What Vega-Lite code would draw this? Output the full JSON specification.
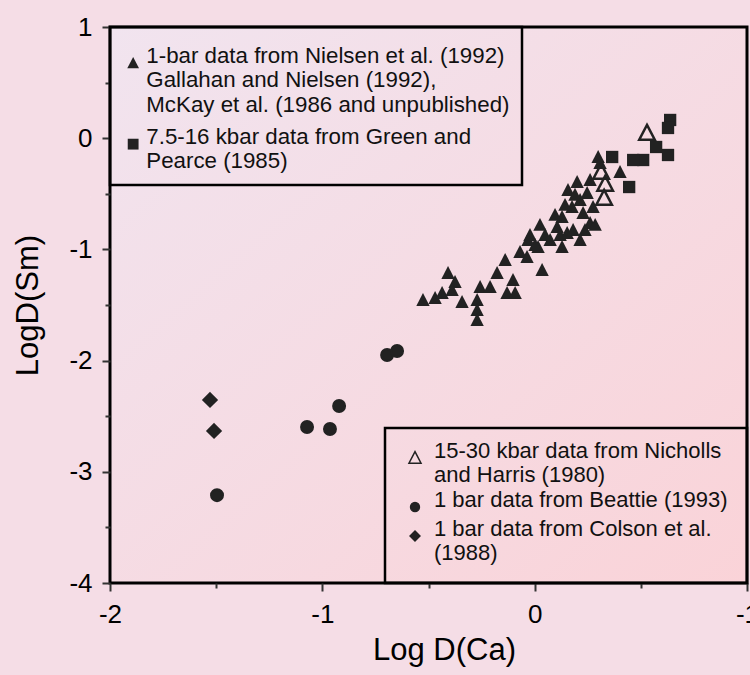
{
  "$schema": "https://vega.github.io/schema/vega-lite/v6.json",
  "width": 637,
  "height": 556,
  "autosize": {"type": "none"},
  "padding": {"left": 110, "top": 27, "right": 3, "bottom": 92},
  "background": "#f5dde6",
  "config": {
    "font": "Liberation Sans",
    "view": {
      "stroke": "black",
      "strokeWidth": 3,
      "fill": {
        "gradient": "linear",
        "x1": 0, "y1": 0, "x2": 1, "y2": 1,
        "stops": [
          {"offset": 0, "color": "#f1e4ef"},
          {"offset": 1, "color": "#fad3d8"}
        ]
      }
    },
    "axis": {
      "domain": false,
      "grid": false,
      "tickColor": "#333",
      "tickWidth": 2,
      "labelColor": "black",
      "labelFontSize": 26,
      "titleFontSize": 31,
      "titleFontWeight": "normal",
      "titleColor": "black",
      "labelFlush": false,
      "labelOverlap": false
    },
    "legend": {
      "offset": 0,
      "strokeColor": "black",
      "strokeWidth": 2.5,
      "labelColor": "#111",
      "labelLimit": 600,
      "labelBaseline": "alphabetic"
    }
  },
  "datasets": {
    "lowPressure": [
      {"series": "1-bar data from Nielsen et al. (1992)\nGallahan and Nielsen (1992),\nMcKay et al. (1986 and unpublished)", "logDCa": -0.526, "logDSm": -1.455},
      {"series": "1-bar data from Nielsen et al. (1992)\nGallahan and Nielsen (1992),\nMcKay et al. (1986 and unpublished)", "logDCa": -0.469, "logDSm": -1.437},
      {"series": "1-bar data from Nielsen et al. (1992)\nGallahan and Nielsen (1992),\nMcKay et al. (1986 and unpublished)", "logDCa": -0.436, "logDSm": -1.392},
      {"series": "1-bar data from Nielsen et al. (1992)\nGallahan and Nielsen (1992),\nMcKay et al. (1986 and unpublished)", "logDCa": -0.408, "logDSm": -1.212},
      {"series": "1-bar data from Nielsen et al. (1992)\nGallahan and Nielsen (1992),\nMcKay et al. (1986 and unpublished)", "logDCa": -0.375, "logDSm": -1.293},
      {"series": "1-bar data from Nielsen et al. (1992)\nGallahan and Nielsen (1992),\nMcKay et al. (1986 and unpublished)", "logDCa": -0.389, "logDSm": -1.365},
      {"series": "1-bar data from Nielsen et al. (1992)\nGallahan and Nielsen (1992),\nMcKay et al. (1986 and unpublished)", "logDCa": -0.342, "logDSm": -1.473},
      {"series": "1-bar data from Nielsen et al. (1992)\nGallahan and Nielsen (1992),\nMcKay et al. (1986 and unpublished)", "logDCa": -0.271, "logDSm": -1.455},
      {"series": "1-bar data from Nielsen et al. (1992)\nGallahan and Nielsen (1992),\nMcKay et al. (1986 and unpublished)", "logDCa": -0.271, "logDSm": -1.545},
      {"series": "1-bar data from Nielsen et al. (1992)\nGallahan and Nielsen (1992),\nMcKay et al. (1986 and unpublished)", "logDCa": -0.271, "logDSm": -1.635},
      {"series": "1-bar data from Nielsen et al. (1992)\nGallahan and Nielsen (1992),\nMcKay et al. (1986 and unpublished)", "logDCa": -0.257, "logDSm": -1.338},
      {"series": "1-bar data from Nielsen et al. (1992)\nGallahan and Nielsen (1992),\nMcKay et al. (1986 and unpublished)", "logDCa": -0.210, "logDSm": -1.338},
      {"series": "1-bar data from Nielsen et al. (1992)\nGallahan and Nielsen (1992),\nMcKay et al. (1986 and unpublished)", "logDCa": -0.177, "logDSm": -1.212},
      {"series": "1-bar data from Nielsen et al. (1992)\nGallahan and Nielsen (1992),\nMcKay et al. (1986 and unpublished)", "logDCa": -0.139, "logDSm": -1.095},
      {"series": "1-bar data from Nielsen et al. (1992)\nGallahan and Nielsen (1992),\nMcKay et al. (1986 and unpublished)", "logDCa": -0.130, "logDSm": -1.392},
      {"series": "1-bar data from Nielsen et al. (1992)\nGallahan and Nielsen (1992),\nMcKay et al. (1986 and unpublished)", "logDCa": -0.092, "logDSm": -1.392},
      {"series": "1-bar data from Nielsen et al. (1992)\nGallahan and Nielsen (1992),\nMcKay et al. (1986 and unpublished)", "logDCa": -0.102, "logDSm": -1.275},
      {"series": "1-bar data from Nielsen et al. (1992)\nGallahan and Nielsen (1992),\nMcKay et al. (1986 and unpublished)", "logDCa": -0.069, "logDSm": -1.023},
      {"series": "1-bar data from Nielsen et al. (1992)\nGallahan and Nielsen (1992),\nMcKay et al. (1986 and unpublished)", "logDCa": -0.036, "logDSm": -1.068},
      {"series": "1-bar data from Nielsen et al. (1992)\nGallahan and Nielsen (1992),\nMcKay et al. (1986 and unpublished)", "logDCa": -0.022, "logDSm": -0.871},
      {"series": "1-bar data from Nielsen et al. (1992)\nGallahan and Nielsen (1992),\nMcKay et al. (1986 and unpublished)", "logDCa": 0.016, "logDSm": -0.978},
      {"series": "1-bar data from Nielsen et al. (1992)\nGallahan and Nielsen (1992),\nMcKay et al. (1986 and unpublished)", "logDCa": 0.035, "logDSm": -1.185},
      {"series": "1-bar data from Nielsen et al. (1992)\nGallahan and Nielsen (1992),\nMcKay et al. (1986 and unpublished)", "logDCa": 0.073, "logDSm": -0.915},
      {"series": "1-bar data from Nielsen et al. (1992)\nGallahan and Nielsen (1992),\nMcKay et al. (1986 and unpublished)", "logDCa": 0.106, "logDSm": -0.799},
      {"series": "1-bar data from Nielsen et al. (1992)\nGallahan and Nielsen (1992),\nMcKay et al. (1986 and unpublished)", "logDCa": 0.129, "logDSm": -0.978},
      {"series": "1-bar data from Nielsen et al. (1992)\nGallahan and Nielsen (1992),\nMcKay et al. (1986 and unpublished)", "logDCa": 0.153, "logDSm": -0.853},
      {"series": "1-bar data from Nielsen et al. (1992)\nGallahan and Nielsen (1992),\nMcKay et al. (1986 and unpublished)", "logDCa": 0.181, "logDSm": -0.826},
      {"series": "1-bar data from Nielsen et al. (1992)\nGallahan and Nielsen (1992),\nMcKay et al. (1986 and unpublished)", "logDCa": 0.157, "logDSm": -0.466},
      {"series": "1-bar data from Nielsen et al. (1992)\nGallahan and Nielsen (1992),\nMcKay et al. (1986 and unpublished)", "logDCa": 0.200, "logDSm": -0.394},
      {"series": "1-bar data from Nielsen et al. (1992)\nGallahan and Nielsen (1992),\nMcKay et al. (1986 and unpublished)", "logDCa": 0.214, "logDSm": -0.556},
      {"series": "1-bar data from Nielsen et al. (1992)\nGallahan and Nielsen (1992),\nMcKay et al. (1986 and unpublished)", "logDCa": 0.228, "logDSm": -0.673},
      {"series": "1-bar data from Nielsen et al. (1992)\nGallahan and Nielsen (1992),\nMcKay et al. (1986 and unpublished)", "logDCa": 0.261, "logDSm": -0.763},
      {"series": "1-bar data from Nielsen et al. (1992)\nGallahan and Nielsen (1992),\nMcKay et al. (1986 and unpublished)", "logDCa": 0.247, "logDSm": -0.493},
      {"series": "1-bar data from Nielsen et al. (1992)\nGallahan and Nielsen (1992),\nMcKay et al. (1986 and unpublished)", "logDCa": 0.275, "logDSm": -0.619},
      {"series": "1-bar data from Nielsen et al. (1992)\nGallahan and Nielsen (1992),\nMcKay et al. (1986 and unpublished)", "logDCa": 0.299, "logDSm": -0.169},
      {"series": "1-bar data from Nielsen et al. (1992)\nGallahan and Nielsen (1992),\nMcKay et al. (1986 and unpublished)", "logDCa": 0.308, "logDSm": -0.223},
      {"series": "1-bar data from Nielsen et al. (1992)\nGallahan and Nielsen (1992),\nMcKay et al. (1986 and unpublished)", "logDCa": 0.402, "logDSm": -0.304},
      {"series": "1-bar data from Nielsen et al. (1992)\nGallahan and Nielsen (1992),\nMcKay et al. (1986 and unpublished)", "logDCa": 0.214, "logDSm": -0.915},
      {"series": "1-bar data from Nielsen et al. (1992)\nGallahan and Nielsen (1992),\nMcKay et al. (1986 and unpublished)", "logDCa": 0.176, "logDSm": -0.619},
      {"series": "1-bar data from Nielsen et al. (1992)\nGallahan and Nielsen (1992),\nMcKay et al. (1986 and unpublished)", "logDCa": 0.129, "logDSm": -0.709},
      {"series": "1-bar data from Nielsen et al. (1992)\nGallahan and Nielsen (1992),\nMcKay et al. (1986 and unpublished)", "logDCa": 0.049, "logDSm": -0.871},
      {"series": "1-bar data from Nielsen et al. (1992)\nGallahan and Nielsen (1992),\nMcKay et al. (1986 and unpublished)", "logDCa": 0.002, "logDSm": -0.960},
      {"series": "1-bar data from Nielsen et al. (1992)\nGallahan and Nielsen (1992),\nMcKay et al. (1986 and unpublished)", "logDCa": 0.096, "logDSm": -0.690},
      {"series": "1-bar data from Nielsen et al. (1992)\nGallahan and Nielsen (1992),\nMcKay et al. (1986 and unpublished)", "logDCa": 0.190, "logDSm": -0.510},
      {"series": "1-bar data from Nielsen et al. (1992)\nGallahan and Nielsen (1992),\nMcKay et al. (1986 and unpublished)", "logDCa": 0.237, "logDSm": -0.826},
      {"series": "1-bar data from Nielsen et al. (1992)\nGallahan and Nielsen (1992),\nMcKay et al. (1986 and unpublished)", "logDCa": -0.031, "logDSm": -0.915},
      {"series": "1-bar data from Nielsen et al. (1992)\nGallahan and Nielsen (1992),\nMcKay et al. (1986 and unpublished)", "logDCa": 0.025, "logDSm": -0.780},
      {"series": "1-bar data from Nielsen et al. (1992)\nGallahan and Nielsen (1992),\nMcKay et al. (1986 and unpublished)", "logDCa": 0.143, "logDSm": -0.600},
      {"series": "1-bar data from Nielsen et al. (1992)\nGallahan and Nielsen (1992),\nMcKay et al. (1986 and unpublished)", "logDCa": 0.261, "logDSm": -0.376},
      {"series": "1-bar data from Nielsen et al. (1992)\nGallahan and Nielsen (1992),\nMcKay et al. (1986 and unpublished)", "logDCa": 0.285, "logDSm": -0.780},
      {"series": "1-bar data from Nielsen et al. (1992)\nGallahan and Nielsen (1992),\nMcKay et al. (1986 and unpublished)", "logDCa": 0.120, "logDSm": -0.870},
      {"series": "7.5-16 kbar data from Green and\nPearce (1985)", "logDCa": 0.638, "logDSm": 0.164},
      {"series": "7.5-16 kbar data from Green and\nPearce (1985)", "logDCa": 0.628, "logDSm": 0.092},
      {"series": "7.5-16 kbar data from Green and\nPearce (1985)", "logDCa": 0.572, "logDSm": -0.079},
      {"series": "7.5-16 kbar data from Green and\nPearce (1985)", "logDCa": 0.628, "logDSm": -0.151},
      {"series": "7.5-16 kbar data from Green and\nPearce (1985)", "logDCa": 0.511, "logDSm": -0.196},
      {"series": "7.5-16 kbar data from Green and\nPearce (1985)", "logDCa": 0.464, "logDSm": -0.196},
      {"series": "7.5-16 kbar data from Green and\nPearce (1985)", "logDCa": 0.445, "logDSm": -0.439},
      {"series": "7.5-16 kbar data from Green and\nPearce (1985)", "logDCa": 0.365, "logDSm": -0.169}
    ],
    "otherSources": [
      {"series": "15-30 kbar data from Nicholls\nand Harris (1980)", "logDCa": 0.529, "logDSm": 0.047},
      {"series": "15-30 kbar data from Nicholls\nand Harris (1980)", "logDCa": 0.313, "logDSm": -0.304},
      {"series": "15-30 kbar data from Nicholls\nand Harris (1980)", "logDCa": 0.332, "logDSm": -0.412},
      {"series": "15-30 kbar data from Nicholls\nand Harris (1980)", "logDCa": 0.327, "logDSm": -0.538},
      {"series": "1 bar data from Beattie (1993)", "logDCa": -1.496, "logDSm": -3.21},
      {"series": "1 bar data from Beattie (1993)", "logDCa": -1.072, "logDSm": -2.597},
      {"series": "1 bar data from Beattie (1993)", "logDCa": -0.964, "logDSm": -2.615},
      {"series": "1 bar data from Beattie (1993)", "logDCa": -0.921, "logDSm": -2.408},
      {"series": "1 bar data from Beattie (1993)", "logDCa": -0.695, "logDSm": -1.95},
      {"series": "1 bar data from Beattie (1993)", "logDCa": -0.648, "logDSm": -1.914},
      {"series": "1 bar data from Colson et al.\n(1988)", "logDCa": -1.529, "logDSm": -2.354},
      {"series": "1 bar data from Colson et al.\n(1988)", "logDCa": -1.51, "logDSm": -2.633}
    ]
  },
  "encoding": {
    "x": {
      "field": "logDCa",
      "type": "quantitative",
      "scale": {"domain": [-2, 1], "nice": false, "zero": false},
      "axis": {
        "title": "Log D(Ca)",
        "values": [-2, -1.5, -1, -0.5, 0, 0.5, 1],
        "labelExpr": "datum.value === 1 ? '-1' : (datum.value % 1 === 0 ? (datum.value < 0 ? '-' + abs(datum.value) : '' + datum.value) : '')",
        "tickSize": {"condition": {"test": "datum.value % 1 === 0", "value": 8}, "value": 5},
        "labelPadding": 10,
        "titlePadding": 8,
        "titleX": 334
      }
    },
    "y": {
      "field": "logDSm",
      "type": "quantitative",
      "scale": {"domain": [-4, 1], "nice": false, "zero": false},
      "axis": {
        "title": "LogD(Sm)",
        "values": [-4, -3.5, -3, -2.5, -2, -1.5, -1, -0.5, 0, 0.5, 1],
        "labelExpr": "datum.value % 1 === 0 ? (datum.value < 0 ? '-' + abs(datum.value) : '' + datum.value) : ''",
        "tickSize": {"condition": {"test": "datum.value % 1 === 0", "value": 8}, "value": 5},
        "labelPadding": 10,
        "titlePadding": 24
      }
    }
  },
  "layer": [
    {
      "data": {"name": "lowPressure"},
      "mark": {"type": "point", "filled": true, "color": "#222", "opacity": 1, "size": 220},
      "encoding": {
        "shape": {
          "field": "series",
          "type": "nominal",
          "scale": {
            "domain": [
              "1-bar data from Nielsen et al. (1992)\nGallahan and Nielsen (1992),\nMcKay et al. (1986 and unpublished)",
              "7.5-16 kbar data from Green and\nPearce (1985)"
            ],
            "range": [
              "M0,-0.95L0.9,0.8L-0.9,0.8Z",
              "M-0.83,-0.83L0.83,-0.83L0.83,0.83L-0.83,0.83Z"
            ]
          },
          "legend": {
            "orient": "top-left",
            "title": " ",
            "titleFontSize": 9,
            "titlePadding": 4,
            "padding": 12,
            "labelOffset": 2,
            "rowPadding": 9,
            "labelFontSize": 22.3,
            "labelExpr": "split(datum.label, '\\n')",
            "symbolSize": 170,
            "symbolFillColor": "#222",
            "symbolStrokeWidth": 0,
            "encode": {
              "labels": {"update": {"lineHeight": {"value": 25.5}, "dy": {"value": 8}}}
            }
          }
        }
      }
    },
    {
      "data": {"name": "otherSources"},
      "mark": {"type": "point", "filled": true, "stroke": "#222", "strokeWidth": 2.5, "opacity": 1, "size": 200},
      "encoding": {
        "shape": {
          "field": "series",
          "type": "nominal",
          "scale": {
            "domain": [
              "15-30 kbar data from Nicholls\nand Harris (1980)",
              "1 bar data from Beattie (1993)",
              "1 bar data from Colson et al.\n(1988)"
            ],
            "range": [
              "M0,-1.15L1.1,0.95L-1.1,0.95Z",
              "M0.81,0A0.81,0.81 0 1,1 -0.81,0A0.81,0.81 0 1,1 0.81,0Z",
              "M0,-0.9L0.9,0L0,0.9L-0.9,0Z"
            ]
          },
          "legend": {
            "orient": "bottom-right",
            "title": null,
            "padding": 19,
            "labelOffset": 8,
            "rowPadding": 3,
            "labelFontSize": 22,
            "labelExpr": "split(datum.label, '\\n')",
            "symbolSize": 120,
            "encode": {
              "labels": {"update": {"lineHeight": {"value": 26}, "dy": {"value": 8}}},
              "symbols": {"update": {"stroke": {"value": "#222"}, "strokeWidth": {"value": 2.5}}}
            }
          }
        },
        "fill": {
          "field": "series",
          "type": "nominal",
          "scale": {
            "domain": [
              "15-30 kbar data from Nicholls\nand Harris (1980)",
              "1 bar data from Beattie (1993)",
              "1 bar data from Colson et al.\n(1988)"
            ],
            "range": ["rgba(0,0,0,0)", "#222", "#222"]
          },
          "legend": {
            "orient": "bottom-right",
            "title": null,
            "padding": 19,
            "labelOffset": 8,
            "rowPadding": 3,
            "labelFontSize": 22,
            "labelExpr": "split(datum.label, '\\n')",
            "symbolSize": 120,
            "encode": {
              "labels": {"update": {"lineHeight": {"value": 26}, "dy": {"value": 8}}},
              "symbols": {"update": {"stroke": {"value": "#222"}, "strokeWidth": {"value": 2.5}}}
            }
          }
        }
      }
    }
  ],
  "resolve": {
    "scale": {"shape": "independent", "fill": "independent"},
    "legend": {"shape": "independent", "fill": "independent"}
  }
}
